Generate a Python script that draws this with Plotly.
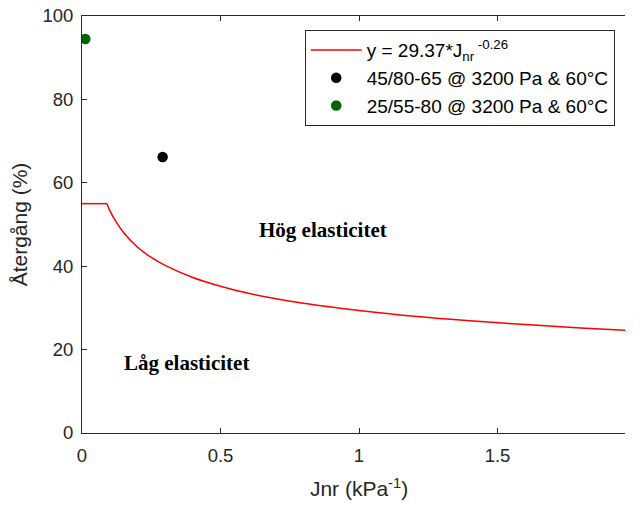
import plotly.graph_objects as go

# Fitted curve
curve_x = [0, 0.09, 0.1, 0.12, 0.15, 0.2, 0.25, 0.3, 0.4, 0.5, 0.6, 0.7, 0.8, 0.9,
           1.0, 1.2, 1.4, 1.6, 1.8, 2.0]
curve_y = [55, 55, 53.4, 51.0, 48.1, 44.6, 42.1, 40.2, 37.3, 35.2, 33.5, 32.2, 31.1,
           30.2, 29.4, 28.0, 26.9, 26.0, 25.2, 24.5]

# Measured points
black_x = [0.291]
black_y = [66.2]
green_x = [0.012]
green_y = [94.5]

x_ticks = [0, 0.5, 1, 1.5, 2]
x_tick_text = ["0", "0.5", "1", "1.5", "2"]
y_ticks = [0, 20, 40, 60, 80, 100]

AX = "#262626"
FONT = "Liberation Sans, Arial, sans-serif"
SERIF = "Liberation Serif, Times New Roman, serif"

fig = go.Figure()
fig.add_trace(go.Scatter(
    x=curve_x[:2], y=curve_y[:2], mode="lines", showlegend=False,
    line=dict(color="#ff0000", width=1.5), hoverinfo="skip"))
fig.add_trace(go.Scatter(
    x=curve_x[1:], y=curve_y[1:], mode="lines", line_shape="spline",
    name="y = 29.37*J<sub>nr</sub><sup> -0.26</sup>",
    line=dict(color="#ff0000", width=1.5)))
fig.add_trace(go.Scatter(
    x=black_x, y=black_y, mode="markers",
    name="45/80-65 @ 3200 Pa & 60°C",
    marker=dict(color="#000000", size=10.5)))
fig.add_trace(go.Scatter(
    x=green_x, y=green_y, mode="markers",
    name="25/55-80 @ 3200 Pa & 60°C",
    marker=dict(color="#006400", size=10.5)))

fig.add_annotation(x=0.87, y=48.7, text="<b>Hög elasticitet</b>", showarrow=False,
                   font=dict(family=SERIF, size=21, color="#000"))
fig.add_annotation(x=0.377, y=16.9, text="<b>Låg elasticitet</b>", showarrow=False,
                   font=dict(family=SERIF, size=21, color="#000"))

axis_common = dict(showgrid=False, zeroline=False, showline=True, linecolor=AX, linewidth=1,
                   mirror="ticks", ticks="inside", ticklen=5, tickcolor=AX,
                   ticklabeloverflow="allow",
                   tickfont=dict(family=FONT, size=18.5, color=AX))

fig.update_xaxes(range=[0, 2], tickvals=x_ticks, ticktext=x_tick_text, ticklabelstandoff=6,
                 title=dict(text="Jnr (kPa<sup>-1</sup>)", font=dict(family=FONT, size=21, color=AX), standoff=16),
                 **axis_common)
fig.update_yaxes(range=[0, 100], tickvals=y_ticks, ticklabelstandoff=4,
                 title=dict(text="Återgång (%)", font=dict(family=FONT, size=21, color=AX), standoff=10),
                 **axis_common)

fig.update_layout(
    width=633, height=506,
    margin=dict(l=74, r=5, t=8, b=81, autoexpand=False),
    paper_bgcolor="white", plot_bgcolor="white",
    font=dict(family=FONT, color="#000"),
    legend=dict(x=0.402, y=0.966, xanchor="left", yanchor="top",
                bgcolor="white", bordercolor=AX, borderwidth=1,
                font=dict(family=FONT, size=19, color="#000"),
                tracegroupgap=0, itemwidth=51),
)

fig.write_html("out.html")
